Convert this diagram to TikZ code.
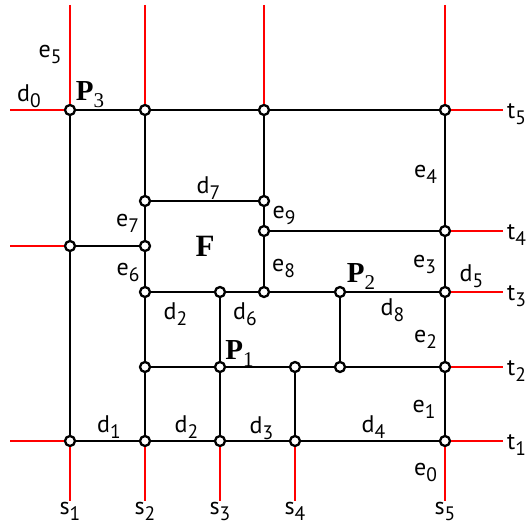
\documentclass[tikz,border=0pt]{standalone}
\usepackage{fontspec}
\setmainfont{Liberation Serif}
\newfontfamily\labfont{PT Sans}
\newcommand{\lab}[2]{{\labfont\fontsize{24}{24}\selectfont #1\raisebox{-6pt}{\fontsize{19.5}{19.5}\selectfont #2}}}
\newcommand{\pnt}[2]{{\fontsize{29}{29}\selectfont\textbf{#1}\raisebox{-7pt}{\fontsize{21}{21}\selectfont #2}}}

\begin{document}
\begin{tikzpicture}[x=1pt, y=-1pt,
  vert/.style={circle, draw=black, fill=white, line width=2.3pt, minimum size=10pt, inner sep=0pt},
  edge/.style={black, line width=2.8pt},
  term/.style={red, line width=2.2pt},
  lbl/.style={inner sep=0pt}]
  \useasboundingbox (0,0) rectangle (527,526);
  % grid vertices v<column><row>
  \foreach \n/\x/\y in {11/70/110, 21/145/110, 41/264/110, 71/445/110,
      22/145/201, 42/264/201, 43/264/231, 73/445/231, 14/70/246, 24/145/246,
      25/145/292, 35/220/292, 45/264/292, 65/340/292, 75/445/292,
      26/145/367, 36/220/367, 56/295/367, 66/340/367, 76/445/367,
      17/70/441, 27/145/441, 37/220/441, 57/295/441, 77/445/441}
    \node[vert] (v\n) at (\x,\y) {};
  % free ends of the terminals
  \foreach \n/\x/\y in {top1/70/5, top2/145/5, top4/264/5, top7/445/5,
      lft1/10/110, lft4/10/246, lft7/10/441,
      t5/503/110, t4/503/231, t3/503/292, t2/503/367, t1/503/441,
      s1/70/501, s2/145/501, s3/220/501, s4/295/501, s5/445/501}
    \coordinate (\n) at (\x,\y);
  % edges
  \foreach \a/\b in {11/21, 21/41, 41/71, 22/42, 43/73, 14/24,
      25/35, 35/45, 45/65, 65/75, 26/36, 36/56, 56/66, 66/76,
      17/27, 27/37, 37/57, 57/77,
      11/14, 14/17, 21/22, 22/24, 24/25, 25/26, 26/27, 35/36, 36/37,
      41/42, 42/43, 43/45, 56/57, 65/66, 71/73, 73/75, 75/76, 76/77}
    \draw[edge] (v\a) -- (v\b);
  \foreach \a/\b in {top1/v11, top2/v21, top4/v41, top7/v71,
      lft1/v11, lft4/v14, lft7/v17,
      v71/t5, v73/t4, v75/t3, v76/t2, v77/t1,
      v17/s1, v27/s2, v37/s3, v57/s4, v77/s5}
    \draw[term] (\a) -- (\b);
  % terminal labels
  \foreach \k in {1,...,5} {
    \node[lbl, anchor=west, xshift=4pt, yshift=-4pt] (lt\k) at (t\k) {\lab{t}{\k}};
    \node[lbl, anchor=north, yshift=-1pt] (ls\k) at (s\k) {\lab{s}{\k}};
  }
  % edge labels
  \node[lbl] (le5) at (50,54.5) {\lab{e}{5}};
  \node[lbl] (ld0) at (29,96) {\lab{d}{0}};
  \node[lbl] (ld7) at (208.5,188) {\lab{d}{7}};
  \node[lbl] (le7) at (127.5,223) {\lab{e}{7}};
  \node[lbl] (le6) at (128,272) {\lab{e}{6}};
  \node[lbl] (le9) at (284,215) {\lab{e}{9}};
  \node[lbl] (le8) at (283.5,268) {\lab{e}{8}};
  \node[lbl] (le4) at (425.5,174) {\lab{e}{4}};
  \node[lbl] (le3) at (424.5,264) {\lab{e}{3}};
  \node[lbl] (ld5) at (471.5,276) {\lab{d}{5}};
  \node[lbl] (ld2a) at (175.5,314) {\lab{d}{2}};
  \node[lbl] (ld6) at (245,314) {\lab{d}{6}};
  \node[lbl] (ld8) at (392.5,310.5) {\lab{d}{8}};
  \node[lbl] (le2) at (425.5,339.5) {\lab{e}{2}};
  \node[lbl] (le1) at (424,409) {\lab{e}{1}};
  \node[lbl] (ld1) at (109,427.5) {\lab{d}{1}};
  \node[lbl] (ld2b) at (186.5,427.5) {\lab{d}{2}};
  \node[lbl] (ld3) at (261.5,428) {\lab{d}{3}};
  \node[lbl] (ld4) at (373.5,427.5) {\lab{d}{4}};
  \node[lbl] (le0) at (425.5,472) {\lab{e}{0}};
  % points and face
  \node[lbl] (lP3) at (90,94.5) {\pnt{P}{3}};
  \node[lbl] (lP2) at (361,276.5) {\pnt{P}{2}};
  \node[lbl] (lP1) at (239.5,354) {\pnt{P}{1}};
  \node[lbl] (lF) at (205,246) {\fontsize{31}{31}\selectfont\textbf{F}};
\end{tikzpicture}
\end{document}
